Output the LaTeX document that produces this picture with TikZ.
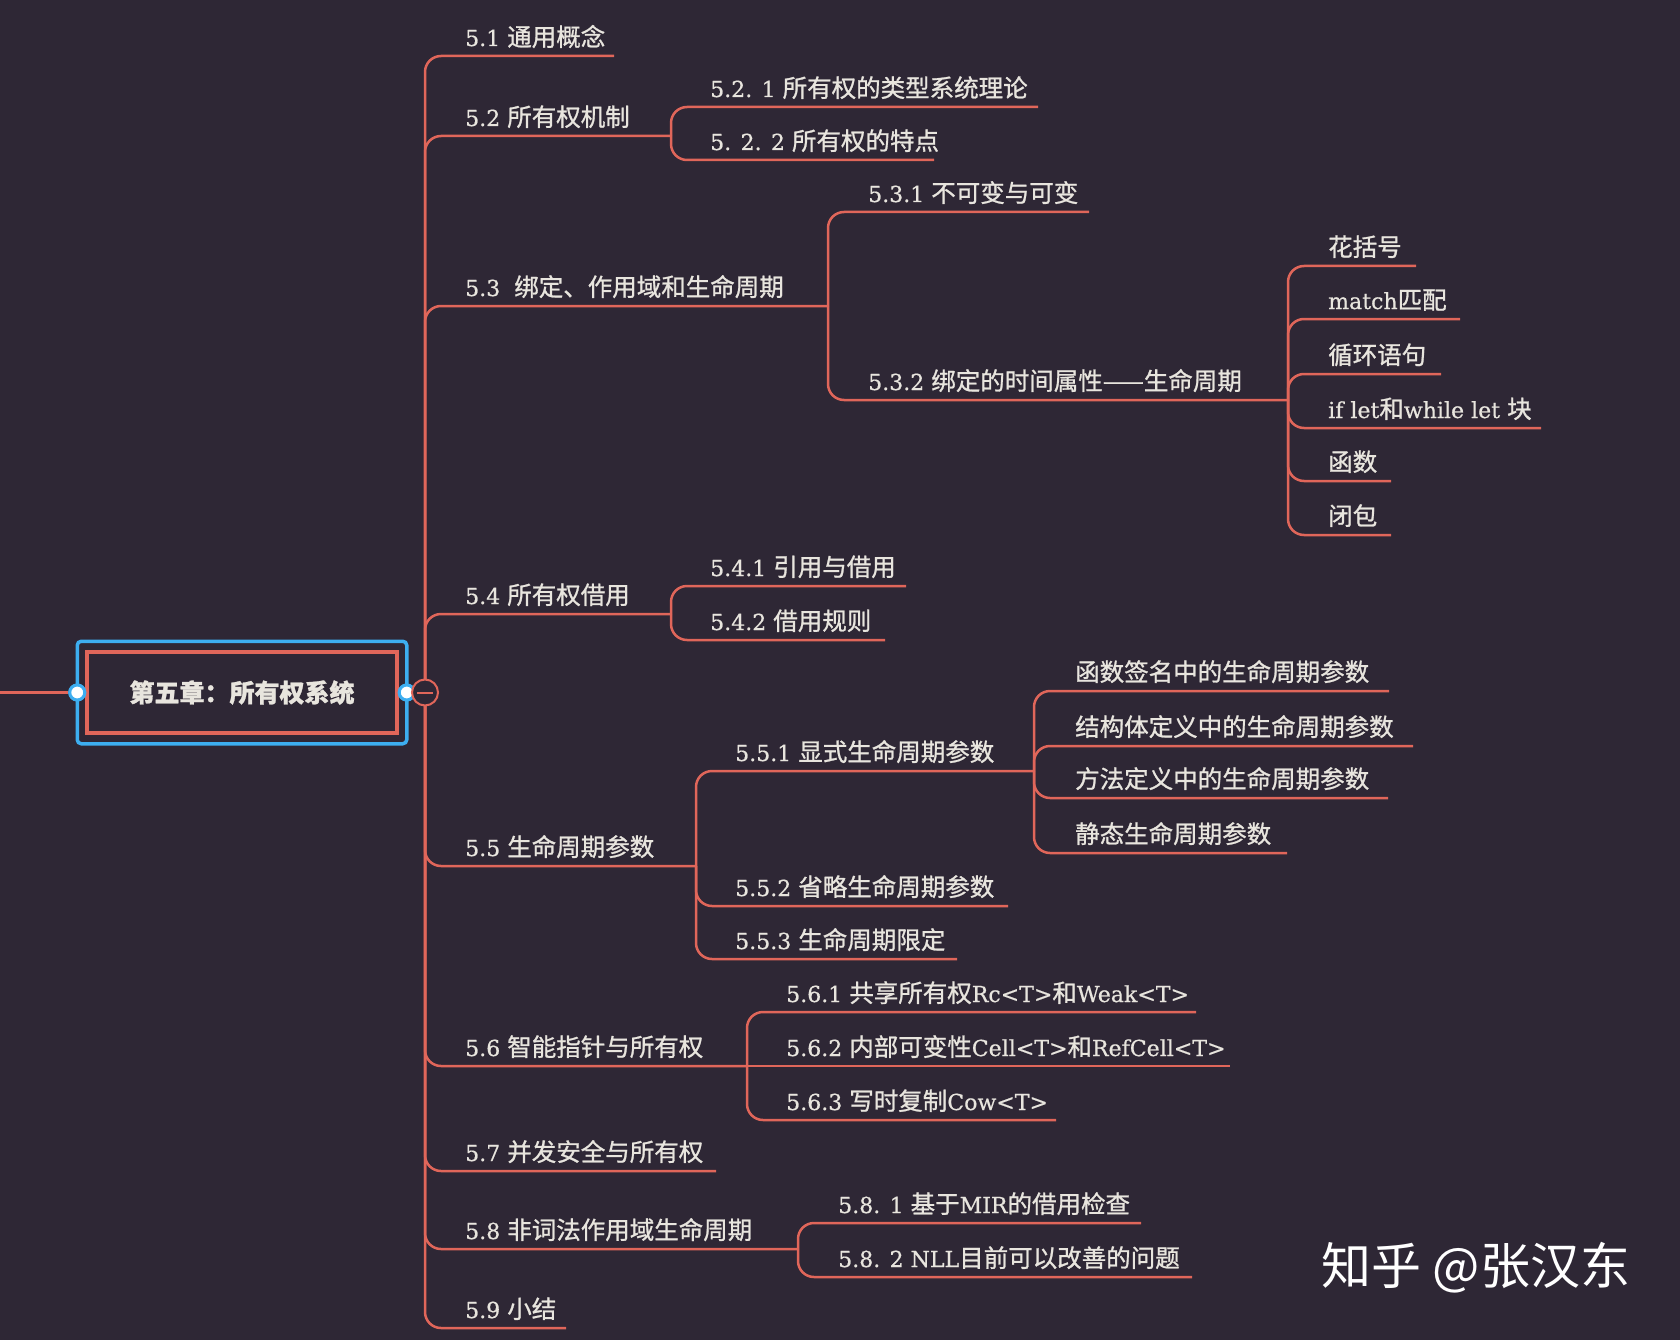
\documentclass[tikz,border=0pt]{standalone}
\usepackage{fontspec}
\setmainfont{DejaVu Serif}[Scale=0.9, FakeBold=0.6]
\newfontfamily\cjk{Noto Sans CJK SC}[FakeBold=1]
\newfontfamily\cjkw{Noto Sans CJK SC}
\newcommand\zh[1]{{\cjk #1}}
\definecolor{bgc}{HTML}{2E2735}
\definecolor{linkc}{HTML}{E0665A}
\definecolor{txtc}{HTML}{E8E5DE}
\definecolor{bluec}{HTML}{3DAEF0}
\tikzset{
  link/.style={draw=linkc, line width=2.5pt, rounded corners=16pt},
  lab/.style={anchor=base west, inner sep=0pt, text=txtc, font=\fontsize{24.5}{28}\selectfont},
  rootbox/.style={draw=linkc, line width=3.5pt, minimum width=310pt, minimum height=81pt, text=txtc, font=\cjk\bfseries\fontsize{25}{28}\selectfont},
  handle/.style={circle, draw=bluec, fill=white, line width=3pt, inner sep=0pt, minimum size=15pt},
  collapse/.style={circle, draw=linkc, fill=bgc, line width=2pt, inner sep=0pt, minimum size=26pt,
    path picture={\draw[linkc, line width=2pt] ([xshift=-8pt]path picture bounding box.center) -- ([xshift=8pt]path picture bounding box.center);}},
  wmark/.style={text=white, font=\cjkw\fontsize{50}{56}\selectfont, inner sep=0pt}
}
\begin{document}
\begin{tikzpicture}[x=1pt,y=-1pt]
\fill[bgc] (0,0) rectangle (1680,1340);
\useasboundingbox (0,0) rectangle (1680,1340);

% root
\node[rootbox] (root) at (242,692.5) {第五章：所有权系统};
\draw[bluec, line width=3.5pt, rounded corners=4pt] ([shift={(-8pt,-9pt)}]root.south west) rectangle ([shift={(8pt,9pt)}]root.north east);
\node[handle] (ldot) at ([xshift=-8pt]root.west) {};
\node[handle] (rdot) at ([xshift=8pt]root.east) {};
\coordinate (lin) at (0,692.5);
\coordinate (j0) at (425,692.5);

% level 1 ends
\coordinate (e51) at (614,56);
\coordinate (e52) at (671,136);
\coordinate (e53) at (828,306);
\coordinate (e54) at (671,614);
\coordinate (e55) at (696,866);
\coordinate (e56) at (747,1066);
\coordinate (e57) at (716,1171);
\coordinate (e58) at (798,1249);
\coordinate (e59) at (566,1328);

\node[lab] (n51) at (465,46) {5.1 \zh{通用概念}};
\node[lab] (n52) at (465,126) {5.2 \zh{所有权机制}};
\node[lab] (n53) at (465,296) {5.3 \ \zh{绑定、作用域和生命周期}};
\node[lab] (n54) at (465,604) {5.4 \zh{所有权借用}};
\node[lab] (n55) at (465,856) {5.5 \zh{生命周期参数}};
\node[lab] (n56) at (465,1056) {5.6 \zh{智能指针与所有权}};
\node[lab] (n57) at (465,1161) {5.7 \zh{并发安全与所有权}};
\node[lab] (n58) at (465,1239) {5.8 \zh{非词法作用域生命周期}};
\node[lab] (n59) at (465,1318) {5.9 \zh{小结}};

\foreach \e in {e51,e52,e53,e54,e55,e56,e57,e58,e59} {\draw[link] (j0) |- (\e);}

% 5.2
\coordinate (e521) at (1038,107);
\coordinate (e522) at (934,160);
\node[lab] (n521) at (710,97) {5.2. 1 \zh{所有权的类型系统理论}};
\node[lab] (n522) at (710,150) {5. 2. 2 \zh{所有权的特点}};
\draw[link] (e52) |- (e521);
\draw[link] (e52) |- (e522);

% 5.3
\coordinate (e531) at (1089,212);
\coordinate (e532) at (1288,400);
\node[lab] (n531) at (868,202) {5.3.1 \zh{不可变与可变}};
\node[lab] (n532) at (868,390) {5.3.2 \zh{绑定的时间属性——生命周期}};
\draw[link] (e53) |- (e531);
\draw[link] (e53) |- (e532);

% 5.3.2 children
\coordinate (f1) at (1416,266);
\coordinate (f2) at (1460,319);
\coordinate (f3) at (1441,374);
\coordinate (f4) at (1541,428);
\coordinate (f5) at (1391,481);
\coordinate (f6) at (1391,535);
\node[lab] (m1) at (1328,256) {\zh{花括号}};
\node[lab] (m2) at (1328,309) {match\zh{匹配}};
\node[lab] (m3) at (1328,364) {\zh{循环语句}};
\node[lab] (m4) at (1328,418) {if let\zh{和}while let \zh{块}};
\node[lab] (m5) at (1328,471) {\zh{函数}};
\node[lab] (m6) at (1328,525) {\zh{闭包}};
\foreach \e in {f1,f2,f3,f4,f5,f6} {\draw[link] (e532) |- (\e);}

% 5.4
\coordinate (e541) at (906,586);
\coordinate (e542) at (885,640);
\node[lab] (n541) at (710,576) {5.4.1 \zh{引用与借用}};
\node[lab] (n542) at (710,630) {5.4.2 \zh{借用规则}};
\draw[link] (e54) |- (e541);
\draw[link] (e54) |- (e542);

% 5.5
\coordinate (e551) at (1034,771);
\coordinate (e552) at (1008,906);
\coordinate (e553) at (957,959);
\node[lab] (n551) at (735,761) {5.5.1 \zh{显式生命周期参数}};
\node[lab] (n552) at (735,896) {5.5.2 \zh{省略生命周期参数}};
\node[lab] (n553) at (735,949) {5.5.3 \zh{生命周期限定}};
\draw[link] (e55) |- (e551);
\draw[link] (e55) |- (e552);
\draw[link] (e55) |- (e553);

% 5.5.1 children
\coordinate (g1) at (1389,691);
\coordinate (g2) at (1413,746);
\coordinate (g3) at (1388,798);
\coordinate (g4) at (1287,853);
\node[lab] (k1) at (1075,681) {\zh{函数签名中的生命周期参数}};
\node[lab] (k2) at (1075,736) {\zh{结构体定义中的生命周期参数}};
\node[lab] (k3) at (1075,788) {\zh{方法定义中的生命周期参数}};
\node[lab] (k4) at (1075,843) {\zh{静态生命周期参数}};
\foreach \e in {g1,g2,g3,g4} {\draw[link] (e551) |- (\e);}

% 5.6
\coordinate (e561) at (1196,1012);
\coordinate (e562) at (1230,1066);
\coordinate (e563) at (1056,1120);
\node[lab] (n561) at (786,1002) {5.6.1 \zh{共享所有权}Rc<T>\zh{和}Weak<T>};
\node[lab] (n562) at (786,1056) {5.6.2 \zh{内部可变性}Cell<T>\zh{和}RefCell<T>};
\node[lab] (n563) at (786,1110) {5.6.3 \zh{写时复制}Cow<T>};
\draw[link] (e56) |- (e561);
\draw[link] (e56) -- (e562);
\draw[link] (e56) |- (e563);

% 5.8
\coordinate (e581) at (1141,1223);
\coordinate (e582) at (1192,1277);
\node[lab] (n581) at (838,1213) {5.8. 1 \zh{基于}MIR\zh{的借用检查}};
\node[lab] (n582) at (838,1267) {5.8. 2 NLL\zh{目前可以改善的问题}};
\draw[link] (e58) |- (e581);
\draw[link] (e58) |- (e582);

% root connectors
\draw[link] (lin) -- (ldot);
\draw[link] (rdot) -- (j0);
\node[handle] at (ldot) {};
\node[handle] at (rdot) {};
\node[collapse] (col) at (j0) {};

% watermark
\node[wmark] (wm) at (1476,1268) {知乎 @张汉东};
\end{tikzpicture}
\end{document}
